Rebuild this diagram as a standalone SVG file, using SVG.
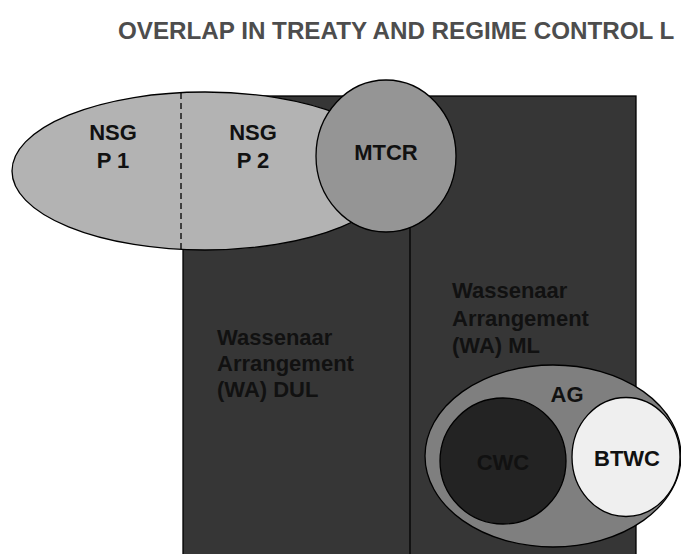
<svg xmlns="http://www.w3.org/2000/svg" width="681" height="554" viewBox="0 0 681 554">
<style>
.t{font-family:"Liberation Sans",Arial,sans-serif;font-weight:bold;font-size:22px;fill:#111}
.c{text-anchor:middle}
.s{stroke:#000;stroke-width:1.3}
</style>
<rect width="681" height="554" fill="#fff"/>
<text id="title" x="118" y="39" font-family="Liberation Sans, Arial, sans-serif" font-weight="bold" font-size="24.2" fill="#4d4d4d">OVERLAP IN TREATY AND REGIME CONTROL L</text>
<g id="wa">
  <rect class="s" x="183" y="96" width="453" height="470" fill="#363636"/>
  <line class="s" x1="410" y1="96" x2="410" y2="566"/>
  <text class="t" x="217" y="345">Wassenaar</text>
  <text class="t" x="217" y="371">Arrangement</text>
  <text class="t" x="217" y="397">(WA) DUL</text>
  <text class="t" x="452" y="298">Wassenaar</text>
  <text class="t" x="452" y="326">Arrangement</text>
  <text class="t" x="452" y="353">(WA) ML</text>
</g>
<g id="nsg">
  <ellipse class="s" cx="205" cy="171" rx="193" ry="79" fill="#b3b3b3"/>
  <line x1="181" y1="93" x2="181" y2="250" stroke="#000" stroke-width="1.3" stroke-dasharray="6,4"/>
  <text class="t c" x="113" y="140">NSG</text>
  <text class="t c" x="113" y="168">P 1</text>
  <text class="t c" x="253" y="140">NSG</text>
  <text class="t c" x="253" y="168">P 2</text>
</g>
<g id="mtcr">
  <ellipse class="s" cx="386" cy="156" rx="70" ry="76" fill="#959595"/>
  <text class="t c" x="386" y="160">MTCR</text>
</g>
<g id="ag">
  <ellipse class="s" cx="553" cy="456" rx="128" ry="91" fill="#7f7f7f"/>
  <text class="t c" x="567" y="402">AG</text>
</g>
<g id="cwc">
  <circle class="s" cx="503" cy="461" r="63" fill="#232323"/>
  <text class="t c" x="503" y="470">CWC</text>
</g>
<g id="btwc">
  <ellipse class="s" cx="626" cy="457" rx="54" ry="59.5" fill="#efefef"/>
  <text class="t c" x="627" y="466">BTWC</text>
</g>
<g id="connectors"/>
</svg>
